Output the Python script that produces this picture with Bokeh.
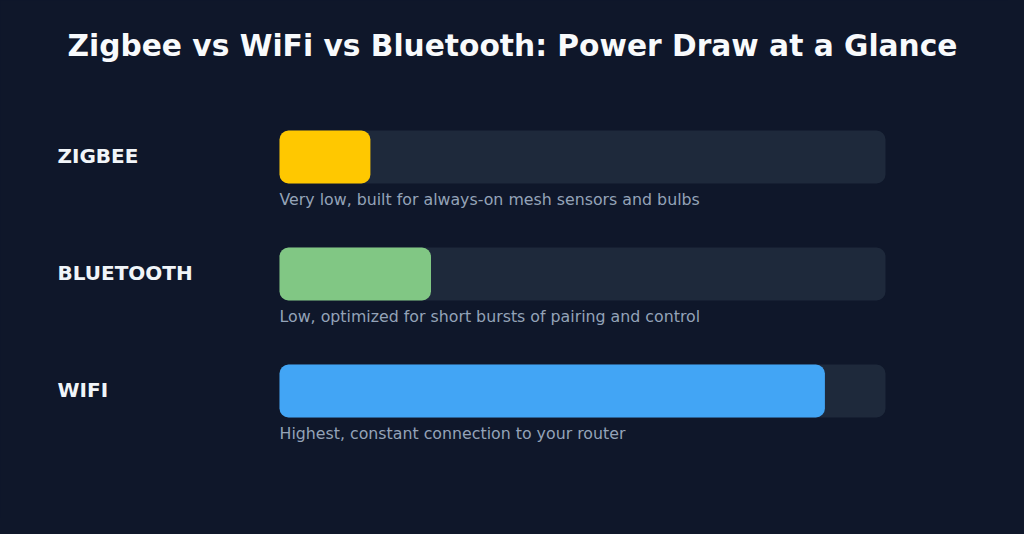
from bokeh.plotting import figure
from bokeh.models import Range1d, ColumnDataSource, Label
from bokeh.core.properties import value
from bokeh.embed import file_html
from bokeh.resources import INLINE

# data
techs = ["ZIGBEE", "BLUETOOTH", "WIFI"]
power = [15, 25, 90]  # relative power draw, % of track
notes = [
    "Very low, built for always-on mesh sensors and bulbs",
    "Low, optimized for short bursts of pairing and control",
    "Highest, constant connection to your router",
]
colors = ["#ffc800", "#81c784", "#42a5f5"]
title = "Zigbee vs WiFi vs Bluetooth: Power Draw at a Glance"

BG = "#0f172a"
TRACK = "#1e293b"

W, H = 1008, 518
px_per_unit = 6.06
x0_px = 279
row_px = 117
row0_px = 156.5

rows = list(range(len(techs)))
src = ColumnDataSource(dict(y=rows, power=power, color=colors, tech=techs,
                            note=notes, full=[100] * len(techs)))

p = figure(width=W, height=H, output_backend="svg", toolbar_location=None,
           x_range=Range1d(-x0_px / px_per_unit, (W - x0_px) / px_per_unit),
           y_range=Range1d((H - row0_px) / row_px, -row0_px / row_px),
           min_border=0)
p.axis.visible = False
p.grid.visible = False
p.outline_line_color = None
p.background_fill_color = BG
p.border_fill_color = BG

bar_h = 53 / row_px
p.hbar(y="y", left=0, right="full", height=bar_h, source=src,
       fill_color=TRACK, line_color=None, border_radius=9)
p.hbar(y="y", left=0, right="power", height=bar_h, source=src,
       fill_color="color", line_color=None, border_radius=9)

p.text(x=0, y="y", text="tech", source=src, x_offset=-222, y_offset=-1,
       text_align="left", text_baseline="middle",
       text_font=value("DejaVu Sans"), text_font_style="bold",
       text_font_size="20px", text_color="#f1f5f9")
p.text(x=0, y="y", text="note", source=src, y_offset=42,
       text_align="left", text_baseline="middle",
       text_font=value("DejaVu Sans"), text_font_size="15.8px",
       text_color="#94a3b8")

p.add_layout(Label(x=512, y=H - 45, x_units="screen", y_units="screen",
                   text=title, text_align="center", text_baseline="middle",
                   text_font="DejaVu Sans", text_font_style="bold",
                   text_font_size="29.7px", text_color="#f8fafc"))

html = file_html(p, INLINE)
html = html.replace("<head>", "<head><style>body{background:%s;}</style>" % BG, 1)
open("out.html", "w").write(html)
